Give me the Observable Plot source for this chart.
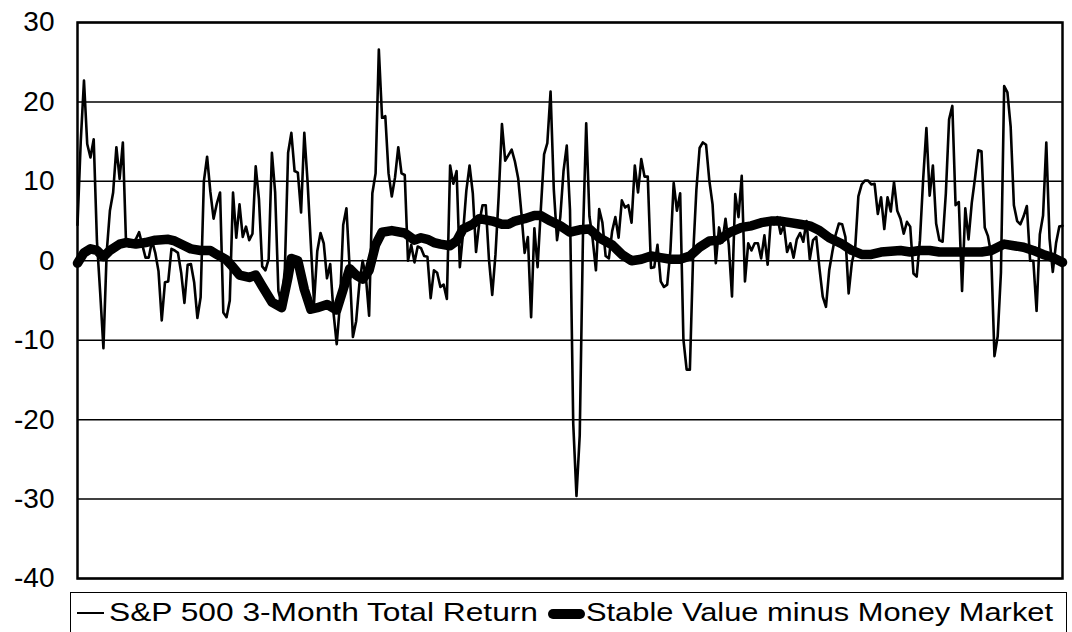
<!DOCTYPE html>
<html>
<head>
<meta charset="utf-8">
<script src="https://cdn.jsdelivr.net/npm/d3@7"></script>
<script src="https://cdn.jsdelivr.net/npm/@observablehq/plot@0.6"></script>
<style>
  body { margin: 0; background: #fff; font-family: "Liberation Sans", Arial, sans-serif; }
  #wrap { position: relative; width: 1072px; height: 632px; overflow: hidden; background: #fff; }
  #chart { position: absolute; left: 0; top: 0; }
  #legendBox { position: absolute; left: 70px; top: 592px; width: 997px; height: 80px; border: 1.5px solid #000; box-sizing: border-box; }
  .lg { position: absolute; }
  .lgText { position: absolute; font-size: 25px; line-height: 25px; white-space: nowrap; transform-origin: 0 0; color: #000; }
</style>
</head>
<body>
<div id="wrap">
  <div id="chart"></div>
  <div id="legendBox"></div>
</div>
<script>
// S&P 500 3-Month Total Return, monthly (Jan 1975 .. May 2000)
const sp500 = [
  4.5, 15, 22.7, 14.7, 13, 15.3, 2.5, -4, -11, 1,
  6.3, 8.6, 14.3, 10.3, 14.9, 2, 1.8, 2.5, 2.7, 3.6,
  2, 0.4, 0.4, 2.5, 1, -1.3, -7.5, -2.7, -2.6, 1.5,
  1.3, 1, -1.5, -5.3, -0.5, -0.4, -2.7, -7.2, -4.6, 10,
  13.1, 8.7, 5.3, 7.2, 8.6, -6.5, -7.1, -5, 8.6, 2.9,
  7.1, 3, 4.3, 2.6, 3.4, 11.9, 7.8, -0.7, -1.2, 0.2,
  13.6, 8.6, -3.8, -5.5, -1, 13.6, 16.1, 11.3, 11.1, 6.1,
  16.1, 10, 2.2, -5.3, 1.2, 3.5, 2.2, -2.2, -0.4, -6.5,
  -10.5, -5.5, 4.5, 6.6, -1, -9.6, -7.6, -2.9, 0, -2,
  -6.9, 8.5, 11, 26.6, 18, 18.2, 11, 8.1, 10.5, 14.3,
  11, 10.8, 0, 2, -0.2, 1.8, 1.6, 0.6, 0.5, -4.7,
  -1.2, -1.5, -3.3, -3, -4.8, 12, 9.7, 11.3, -0.8, 3.5,
  8.8, 12, 8.5, 1.1, 4.8, 7, 7, 0.1, -4.3, 0.8,
  8.2, 17.2, 12.6, 13.3, 14, 12.5, 10.4, 6, 1, 3,
  -7.1, 4.1, -0.8, 6.5, 13.4, 14.8, 21.3, 9, 2.6, 5.5,
  11.3, 14.5, 6.4, -20.5, -29.6, -22, 3.1, 17.3, 5.6, 2.7,
  -1.2, 6.5, 4.8, 0.6, 0.3, 3.7, 5.5, 2.9, 7.6, 6.7,
  7, 4.8, 12, 8.6, 12.8, 10.6, 10.6, -0.9, -0.8, 2,
  -2.6, -3.3, -3, 1.3, 9.8, 6.3, 8.5, -9.9, -13.7, -13.7,
  0.7, 8.9, 14.2, 14.9, 14.6, 10.1, 7.1, -0.3, 4.2, 2.3,
  5.3, 2, -4.5, 8.4, 5.5, 10.7, -2.6, 2.2, 1.3, 2.2,
  2.2, 0.3, 3.2, -0.5, 5.3, 4.6, 5.5, 3.4, 4.5, 1.1,
  2.2, 0.4, 2.7, 3.5, 2.4, 5, 0.2, 2.6, 3, -1,
  -4.5, -5.8, -1.2, 1.2, 3.3, 4.7, 4.6, 3, -4.1, -0.2,
  1.5, 8.1, 9.6, 10.1, 10.1, 9.6, 9.7, 5.9, 8, 4,
  8, 6.2, 9.9, 6.3, 5.3, 3.4, 4.9, 4.3, -1.6, -2,
  2.6, 10.3, 16.7, 8.2, 12, 4.7, 2.6, 2.4, 8.5, 17.8,
  19.5, 7, 7.4, -3.8, 6.6, 2.7, 7.3, 10.4, 13.9, 13.8,
  4.2, 3.1, 0.8, -12, -9.5, -1.5, 22, 21.2, 16.9, 7,
  5, 4.6, 5.6, 6.9, 0, 0, -6.3, 3.3, 5.7, 14.9,
  2.8, -1.4, 2.2, 4.3, 4.4
];

// Stable Value minus Money Market, read at key months (month index from Jan 1975)
const svMonths = [
  0, 2, 4, 6, 8, 10, 13, 15, 18, 21, 24, 28, 30, 33, 35, 38, 41, 43, 46, 48,
  50, 53, 55, 57, 60, 63, 65, 66, 68, 70, 72, 74, 77, 80, 82, 84, 86, 88, 90, 92,
  94, 97, 101, 104, 106, 108, 110, 112, 115, 117, 119, 122, 124, 128, 131, 133, 135, 138, 141, 143,
  146, 149, 152, 155, 158, 161, 165, 168, 171, 174, 177, 180, 183, 186, 189, 192, 195, 198, 201, 205,
  208, 211, 214, 217, 220, 223, 226, 229, 232, 236, 239, 242, 245, 248, 251, 254, 257, 260, 263, 266,
  269, 273, 276, 279, 282, 284, 286, 289, 292, 295, 298, 301, 304
];
const svValues = [
  -0.3, 1.0, 1.5, 1.3, 0.5, 1.3, 2.1, 2.3, 2.1, 2.3, 2.6, 2.7, 2.5, 1.9, 1.5, 1.3, 1.3, 0.8, 0.1, -0.8,
  -1.8, -2.1, -1.8, -3.2, -5.2, -5.9, -2.0, 0.3, 0.0, -3.6, -6.1, -5.9, -5.5, -6.2, -3.6, -1.0, -1.8, -2.3, -1.2, 2.0,
  3.6, 3.8, 3.5, 2.6, 2.9, 2.7, 2.3, 2.1, 1.9, 2.5, 4.0, 4.6, 5.3, 5.0, 4.6, 4.6, 5.0, 5.3, 5.7, 5.7,
  5.0, 4.4, 3.6, 3.9, 4.0, 2.9, 2.0, 0.8, 0.0, 0.2, 0.6, 0.4, 0.2, 0.2, 0.6, 1.7, 2.5, 2.6, 3.5, 4.2,
  4.4, 4.8, 5.0, 5.0, 4.8, 4.6, 4.4, 3.8, 2.9, 2.1, 1.3, 0.8, 0.8, 1.1, 1.2, 1.3, 1.1, 1.3, 1.3, 1.1,
  1.1, 1.1, 1.1, 1.1, 1.3, 1.7, 2.1, 1.9, 1.7, 1.3, 0.8, 0.4, -0.2
];

const yTicks = [-40, -30, -20, -10, 0, 10, 20, 30];
const seriesNames = ["S&P 500 3-Month Total Return", "Stable Value minus Money Market"];

const spData = sp500.map((v, i) => ({ m: i, v }));
const svData = svMonths.map((m, i) => ({ m, v: svValues[i] }));

const chart = Plot.plot({
  width: 1072,
  height: 592,
  marginLeft: 77,
  marginRight: 10,
  marginTop: 22,
  marginBottom: 14,
  style: { fontFamily: "'Liberation Sans', Arial, sans-serif", fontSize: "28px", background: "#fff", color: "#000" },
  x: { domain: [0, sp500.length - 1], axis: null },
  y: { domain: [-40, 30], ticks: yTicks, tickSize: 0, tickPadding: 23, tickFormat: d => String(d), label: null },
  marks: [
    Plot.ruleY(yTicks, { stroke: "#000", strokeWidth: 1.5 }),
    Plot.line(spData, { x: "m", y: "v", stroke: "#000", strokeWidth: 2.6, strokeLinejoin: "round" }),
    Plot.line(svData, { x: "m", y: "v", stroke: "#000", strokeWidth: 9.5, strokeLinecap: "round", strokeLinejoin: "round" }),
    Plot.frame({ stroke: "#000", strokeWidth: 2.5 })
  ]
});
document.getElementById("chart").appendChild(chart);

// Legend
const wrap = document.getElementById("wrap");
function addDiv(style) {
  const d = document.createElement("div");
  d.className = "lg";
  Object.assign(d.style, style);
  wrap.appendChild(d);
  return d;
}
addDiv({ left: "77px", top: "611.5px", width: "27px", height: "2.5px", background: "#000" });
addDiv({ left: "548px", top: "608.5px", width: "37px", height: "10px", background: "#000", borderRadius: "5px" });
function addText(txt, left, targetWidth) {
  const s = document.createElement("span");
  s.className = "lgText";
  s.textContent = txt;
  s.style.left = left + "px";
  s.style.top = "600.3px";
  wrap.appendChild(s);
  const w = s.getBoundingClientRect().width;
  s.style.transform = "scaleX(" + (targetWidth / w) + ")";
}
addText(seriesNames[0], 109, 429);
addText(seriesNames[1], 586, 467);
</script>
</body>
</html>
